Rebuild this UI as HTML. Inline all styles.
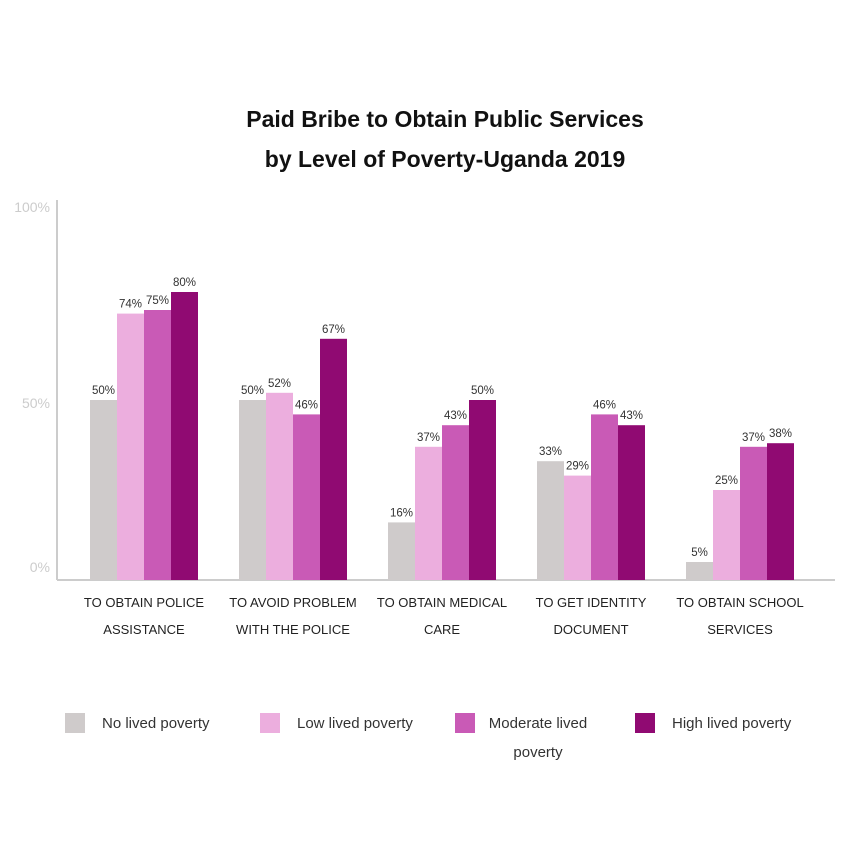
<!DOCTYPE html>
<html><head><meta charset="utf-8">
<style>
body{margin:0;background:#fff;width:850px;height:850px;overflow:hidden;font-family:"Liberation Sans",sans-serif}
svg text{font-family:"Liberation Sans",sans-serif}
</style></head>
<body>
<svg id="chart" width="850" height="850" xmlns="http://www.w3.org/2000/svg">
<text x="445" y="127" text-anchor="middle" font-size="23" font-weight="bold" fill="#111">Paid  Bribe to Obtain Public Services</text>
<text x="445" y="167" text-anchor="middle" font-size="23" font-weight="bold" fill="#111">by Level of Poverty-Uganda 2019</text>
<line x1="57" y1="200" x2="57" y2="580" stroke="#ccc" stroke-width="2"/>
<line x1="57" y1="580" x2="835" y2="580" stroke="#ccc" stroke-width="2"/>
<g id="marks"></g>
</svg>
<script>
const categories=[["TO OBTAIN POLICE","ASSISTANCE"],["TO AVOID PROBLEM","WITH THE POLICE"],["TO OBTAIN MEDICAL","CARE"],["TO GET IDENTITY","DOCUMENT"],["TO OBTAIN SCHOOL","SERVICES"]];
const seriesNames=["No lived poverty","Low lived poverty","Moderate lived poverty","High lived poverty"];
const noPoverty=[50,50,16,33,5];
const lowPoverty=[74,52,37,29,25];
const moderatePoverty=[75,46,43,46,37];
const highPoverty=[80,67,50,43,38];
const yTicks=[0,50,100];
const colors=["#cfcbcb","#ecaede","#c95ab6","#900a72"];
const series=[noPoverty,lowPoverty,moderatePoverty,highPoverty];
const NS="http://www.w3.org/2000/svg";
const g=document.getElementById("marks");
const y=v=>580-v*3.6;
const ty=v=>572-v*3.6;
const gx=i=>90+i*149;
const bw=27;
function mk(t,a){const e=document.createElementNS(NS,t);for(const k in a)e.setAttribute(k,a[k]);g.appendChild(e);return e;}
yTicks.forEach(t=>{
  const e=mk("text",{x:50,y:t===0?ty(t):ty(t)+(t===50?16:0),"text-anchor":"end","font-size":"14",fill:"#ccc"});
  e.textContent=t+"%";
  
  
});
categories.forEach((c,i)=>{
  series.forEach((s,j)=>{
    const x=gx(i)+j*bw;
    const r=mk("rect",{x:x,y:y(s[i]),width:bw,height:580-y(s[i]),fill:colors[j]});
    
    
    const t=mk("text",{x:x+bw/2,y:y(s[i])-6,"text-anchor":"middle","font-size":"11.5",fill:"#333"});
    t.textContent=s[i]+"%";
    
    
  });
  c.forEach((ln,k)=>{
    const t=mk("text",{x:gx(i)+2*bw,y:607+k*27,"text-anchor":"middle","font-size":"13",fill:"#222"});
    t.textContent=ln;
    
    
  });
});
const legX=[65,260,455,635];
seriesNames.forEach((n,j)=>{
  const r=mk("rect",{x:legX[j],y:713,width:20,height:20,fill:colors[j]});
  
  
  const lines=j===2?["Moderate lived","poverty"]:[n];
  lines.forEach((ln,k)=>{
    const t=mk("text",{x:j===2?538:legX[j]+37,y:728+k*29,"text-anchor":j===2?"middle":"start","font-size":"15",fill:"#333"});
    t.textContent=ln;
    
    
  });
});
</script>
</body></html>
